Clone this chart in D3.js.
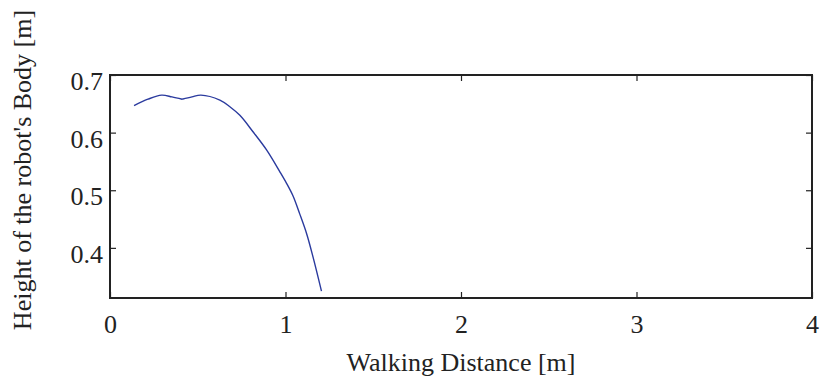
<!DOCTYPE html>
<html>
<head>
<meta charset="utf-8">
<script src="https://cdn.jsdelivr.net/npm/d3@7"></script>
<style>
  html, body { margin: 0; padding: 0; background: #fff; }
  svg { display: block; }
  svg text { font-family: "Liberation Serif", "Times New Roman", Times, serif; fill: #222; }
</style>
</head>
<body>
<svg id="chart" width="820" height="386"></svg>
<script>
// Body height of the robot along the walking distance
const walkDistance = [0.137, 0.216, 0.294, 0.353, 0.411, 0.467, 0.518, 0.626, 0.683, 0.740, 0.816, 0.892, 0.968, 1.006, 1.043, 1.081, 1.120, 1.157, 1.205];
const bodyHeight   = [0.647, 0.658, 0.665, 0.662, 0.658, 0.662, 0.665, 0.6565, 0.645, 0.630, 0.601, 0.570, 0.532, 0.512, 0.490, 0.459, 0.425, 0.384, 0.325];
// index of the step where the two arcs meet
const stepIndex = 4;

const xTicks = [0, 1, 2, 3, 4];
const yTicks = [0.4, 0.5, 0.6, 0.7];
const xDomain = [0, 4];
const yDomain = [0.313, 0.7];

const xTitle = "Walking Distance [m]";
const yTitle = "Height of the robot's Body [m]";

const margin = { left: 110, right: 8, top: 75, bottom: 88 };
const W = 820, H = 386;
const svg = d3.select("#chart");

const x = d3.scaleLinear().domain(xDomain).range([margin.left, W - margin.right]);
const y = d3.scaleLinear().domain(yDomain).range([H - margin.bottom, margin.top]);

const tickLen = 6;
const fontSize = 26;

// Curve, drawn as two smooth arcs that meet at the step
const pts = walkDistance.map((d, i) => [d, bodyHeight[i]]);
const line = d3.line()
  .x(d => x(d[0]))
  .y(d => y(d[1]))
  .curve(d3.curveCatmullRom.alpha(0.5));

[pts.slice(0, stepIndex + 1), pts.slice(stepIndex)].forEach(seg => {
  svg.append("path")
    .datum(seg)
    .attr("d", line)
    .attr("fill", "none")
    .attr("stroke", "#2a3a9e")
    .attr("stroke-width", 1.4)
    .attr("stroke-linejoin", "round");
});

// Bottom axis with labels
const gx = svg.append("g")
  .attr("transform", `translate(0,${y.range()[0]})`)
  .call(d3.axisBottom(x).tickValues(xTicks).tickFormat(d3.format("d"))
    .tickSizeInner(-tickLen).tickSizeOuter(0).tickPadding(17));
// Top axis (ticks only)
const gxt = svg.append("g")
  .attr("transform", `translate(0,${y.range()[1]})`)
  .call(d3.axisTop(x).tickValues(xTicks).tickFormat("")
    .tickSizeInner(-tickLen).tickSizeOuter(0));
// Left axis with labels
const gy = svg.append("g")
  .attr("transform", `translate(${x.range()[0]},0)`)
  .call(d3.axisLeft(y).tickValues(yTicks).tickFormat(d3.format(".1f"))
    .tickSizeInner(-tickLen).tickSizeOuter(0).tickPadding(7));
// Right axis (ticks only)
const gyr = svg.append("g")
  .attr("transform", `translate(${x.range()[1]},0)`)
  .call(d3.axisRight(y).tickValues(yTicks).tickFormat("")
    .tickSizeInner(-tickLen).tickSizeOuter(0));

[gx, gxt, gy, gyr].forEach(g => {
  g.attr("font-family", null);
  g.select(".domain").remove();
  g.selectAll(".tick line").attr("stroke", "#222").attr("stroke-width", 1.2);
  g.selectAll(".tick text")
    .attr("font-size", fontSize)
    .attr("fill", "#222");
});
gy.selectAll(".tick text").attr("dy", "0.56em");

// Frame
svg.append("rect")
  .attr("x", x.range()[0])
  .attr("y", y.range()[1])
  .attr("width", x.range()[1] - x.range()[0])
  .attr("height", y.range()[0] - y.range()[1])
  .attr("fill", "none")
  .attr("stroke", "#222")
  .attr("stroke-width", 2);

// Axis titles
svg.append("text")
  .attr("x", (x.range()[0] + x.range()[1]) / 2)
  .attr("y", 371)
  .attr("text-anchor", "middle")
  .attr("font-size", fontSize)
  .text(xTitle);

svg.append("text")
  .attr("transform", `translate(31,170) rotate(-90)`)
  .attr("text-anchor", "middle")
  .attr("font-size", fontSize)
  .text(yTitle);
</script>
</body>
</html>
